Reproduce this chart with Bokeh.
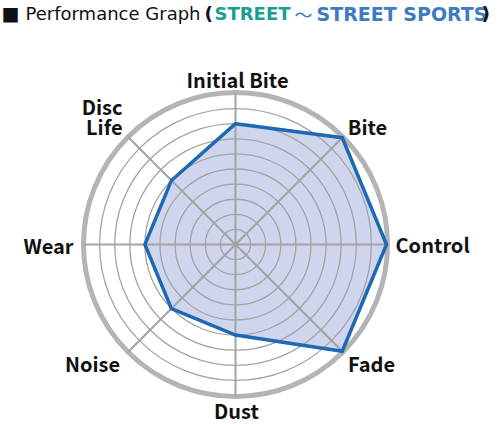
import math

from bokeh.core.properties import value
from bokeh.embed import file_html
from bokeh.models import ColumnDataSource, Range1d
from bokeh.plotting import figure
from bokeh.resources import INLINE

# Radar chart data
categories = ["Initial Bite", "Bite", "Control", "Fade", "Dust", "Noise", "Wear", "Disc\nLife"]
scores = [8, 10, 10, 10, 6, 6, 6, 6]
levels = list(range(1, 11))
max_level = 10

# Title pieces
title_parts = ["■", "Performance Graph", "(", "STREET", "～", "STREET SPORTS", ")"]

# Canvas geometry (1 data unit == 1 px, y axis pointing down)
W, H = 500, 425
CX, CY = 235, 244
R = 151
LABEL_FONT = "Noto Sans CJK JP"
TITLE_FONT = "DejaVu Sans"

p = figure(width=W, height=H, x_range=Range1d(0, W), y_range=Range1d(H, 0),
           output_backend="svg", toolbar_location=None, min_border=0,
           x_axis_location=None, y_axis_location=None)
p.grid.visible = False
p.outline_line_color = None
p.background_fill_color = "white"
p.border_fill_color = "white"

n = len(categories)
angles = [-math.pi / 2 + i * 2 * math.pi / n for i in range(n)]


def polar(r, a):
    return CX + r * math.cos(a), CY + r * math.sin(a)


# filled score polygon
pts = [polar(R * s / max_level, a) for s, a in zip(scores, angles)]
xs = [q[0] for q in pts]
ys = [q[1] for q in pts]
p.patch(xs, ys, fill_color="#cfd5ec", line_color=None)

# grid rings and spokes
inner = levels[:-1]
p.circle(x=[CX] * len(inner), y=[CY] * len(inner),
         radius=[R * l / max_level for l in inner],
         fill_color=None, line_color="#a3a3a3", line_width=1.3)
p.circle(x=[CX], y=[CY], radius=[R * levels[-1] / max_level + 1],
         fill_color=None, line_color="#b4b4b4", line_width=5)
for a in angles:
    x1, y1 = polar(R + 1, a)
    p.line([CX, x1], [CY, y1], line_color="#a3a3a3", line_width=2)

# score outline
p.patch(xs, ys, fill_color=None, line_color="#1d69b4", line_width=3.5,
        line_join="miter")

# axis labels (anchor x, middle y, alignment); multi-line names stack upward
label_pos = [(237, 79, "center"), (367, 126, "center"), (395, 244, "left"),
             (371, 363, "center"), (236, 410, "center"), (92, 363, "center"),
             (48, 245, "center"), (122, 126, "right")]
lx, ly, lt, la = [], [], [], []
for name, (x0, y0, al) in zip(categories, label_pos):
    lines = name.split("\n")
    for k, line in enumerate(lines):
        lx.append(x0)
        ly.append(y0 - (len(lines) - 1 - k) * 20)
        lt.append(line)
        la.append(al)
lab = ColumnDataSource(dict(x=lx, y=ly, text=lt, align=la))
p.text(x="x", y="y", text="text", source=lab, text_align="align",
       text_baseline="middle", text_font=value(LABEL_FONT),
       text_font_size="20px", text_font_style="bold", text_color="#111111")

# title
title_x = [1, 25, 204, 214, 294, 316, 481]
title_y = [13.5, 13, 13, 13, 13.5, 13, 13]
title_col = ["#111111", "#111111", "#111111", "#1a9e8e", "#3d7cc0", "#3d7cc0", "#111111"]
title_style = ["normal", "normal", "bold", "bold", "normal", "bold", "bold"]
title_font = [LABEL_FONT, TITLE_FONT, TITLE_FONT, TITLE_FONT, LABEL_FONT, TITLE_FONT, TITLE_FONT]
title_size = ["18px", "18px", "18.5px", "18px", "18px", "19px", "18.5px"]
tsrc = ColumnDataSource(dict(x=title_x, y=title_y, text=title_parts,
                             color=title_col, style=title_style,
                             font=title_font, size=title_size))
p.text(x="x", y="y", text="text", source=tsrc, text_color="color",
       text_font_style="style", text_align="left", text_baseline="middle",
       text_font="font", text_font_size="size")

open("out.html", "w").write(file_html(p, INLINE))
